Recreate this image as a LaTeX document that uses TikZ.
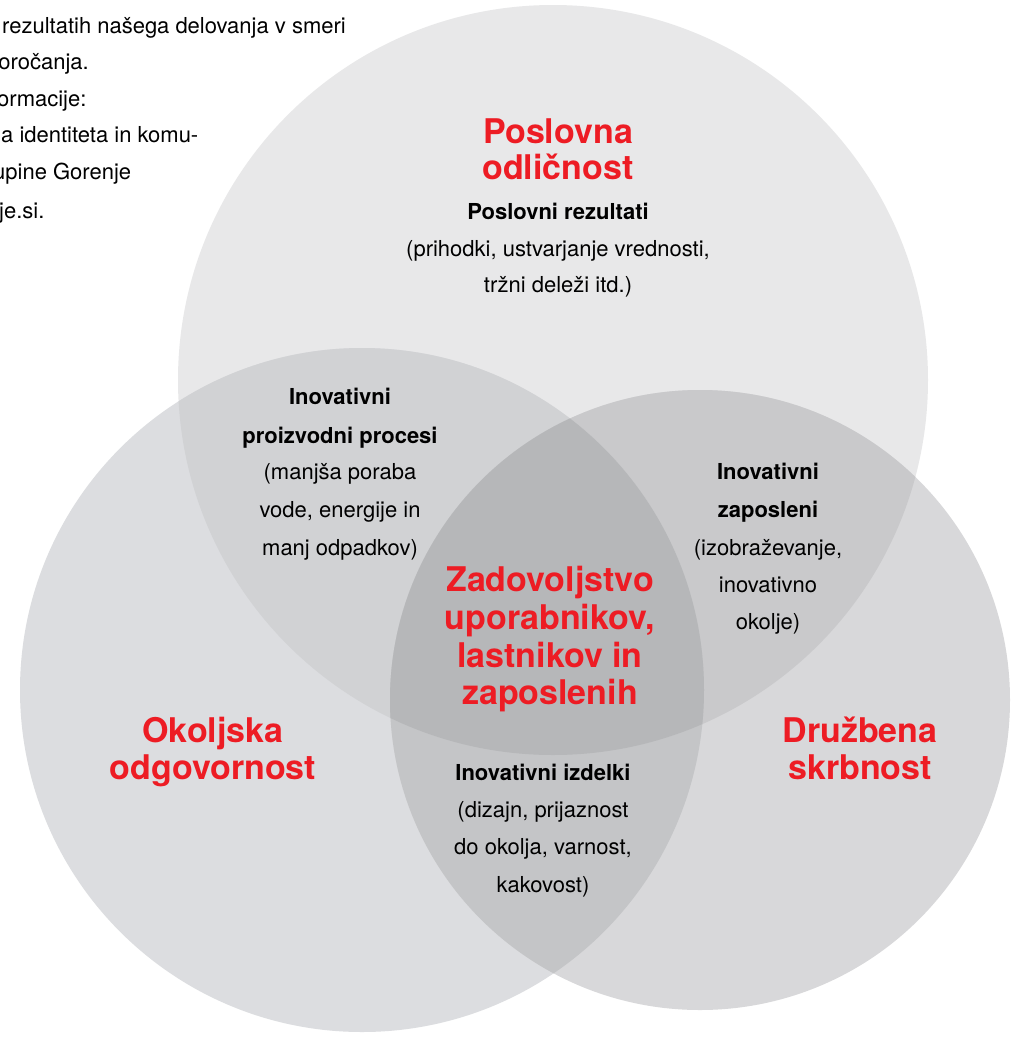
\documentclass[tikz,border=0pt]{standalone}
\usepackage{fontspec}
\setmainfont{TeX Gyre Heros}
\definecolor{gred}{HTML}{ED1C24}
\definecolor{cT}{HTML}{E8E8E9}
\definecolor{cL}{HTML}{DCDDE0}
\definecolor{cR}{HTML}{D8D8DA}
\definecolor{cTL}{HTML}{D1D2D4}
\definecolor{cTR}{HTML}{C9C9CB}
\definecolor{cLR}{HTML}{C4C5C7}
\definecolor{cTLR}{HTML}{B6B7B9}
\tikzset{
  redtitle/.style={font=\bfseries\fontsize{34}{36}\selectfont, text=gred, inner sep=0pt, anchor=base},
  boldlab/.style={font=\bfseries\fontsize{22}{26}\selectfont, inner sep=0pt, anchor=base},
  plain/.style={font=\fontsize{22}{26}\selectfont, inner sep=0pt, anchor=base},
  side/.style={font=\fontsize{22}{26}\selectfont, inner sep=0pt, anchor=base west},
}
\begin{document}
\begin{tikzpicture}[x=1pt,y=-1pt]
\useasboundingbox (0,0) rectangle (1014,1037);
\fill[white] (0,0) rectangle (1014,1037);
\coordinate (T) at (553,380);
\coordinate (L) at (362,690);
\coordinate (R) at (700,700);
% circles
\fill[cT] (T) circle (375pt);
\fill[cL] (L) circle (342pt);
\fill[cR] (R) circle (310pt);
\begin{scope}\clip (T) circle (375pt); \fill[cTL] (L) circle (342pt); \end{scope}
\begin{scope}\clip (T) circle (375pt); \fill[cTR] (R) circle (310pt); \end{scope}
\begin{scope}\clip (L) circle (342pt); \fill[cLR] (R) circle (310pt); \end{scope}
\begin{scope}\clip (T) circle (375pt); \clip (L) circle (342pt); \fill[cTLR] (R) circle (310pt); \end{scope}
% top-left text
\node[side] (s1) at (2,33) {rezultatih našega delovanja v smeri};
\node[side] (s2) at (-14,69) {poročanja.};
\node[side] (s3) at (-26,106) {informacije:};
\node[side] (s4) at (1,142) {a identiteta in komu-};
\node[side] (s5) at (-7,179) {upine Gorenje};
\node[side] (s6) at (-1,218) {je.si.};
% top circle
\node[redtitle] (p1) at (558,143) {Poslovna};
\node[redtitle] (p2) at (558,179) {odličnost};
\node[boldlab] (p3) at (558,219) {Poslovni rezultati};
\node[plain] (p4) at (558,256) {(prihodki, ustvarjanje vrednosti,};
\node[plain] (p5) at (558,292) {tržni deleži itd.)};
% top-left overlap
\node[boldlab] (a1) at (340,404) {Inovativni};
\node[boldlab] (a2) at (340,443) {proizvodni procesi};
\node[plain] (a3) at (340,479) {(manjša poraba};
\node[plain] (a4) at (340,517) {vode, energije in};
\node[plain] (a5) at (340,555) {manj odpadkov)};
% top-right overlap
\node[boldlab] (b1) at (768,479) {Inovativni};
\node[boldlab] (b2) at (768,517) {zaposleni};
\node[plain] (b3) at (768,555) {(izobraževanje,};
\node[plain] (b4) at (768,592) {inovativno};
\node[plain] (b5) at (768,629) {okolje)};
% centre
\node[redtitle] (c1) at (550,591) {Zadovoljstvo};
\node[redtitle] (c2) at (550,629) {uporabnikov,};
\node[redtitle] (c3) at (550,667) {lastnikov in};
\node[redtitle] (c4) at (550,704) {zaposlenih};
% left / right
\node[redtitle] (l1) at (213,742) {Okoljska};
\node[redtitle] (l2) at (213,779) {odgovornost};
\node[redtitle] (r1) at (860,742) {Družbena};
\node[redtitle] (r2) at (860,779) {skrbnost};
% bottom overlap
\node[boldlab] (d1) at (543,780) {Inovativni izdelki};
\node[plain] (d2) at (543,817) {(dizajn, prijaznost};
\node[plain] (d3) at (543,854) {do okolja, varnost,};
\node[plain] (d4) at (543,892) {kakovost)};
\end{tikzpicture}
\end{document}
